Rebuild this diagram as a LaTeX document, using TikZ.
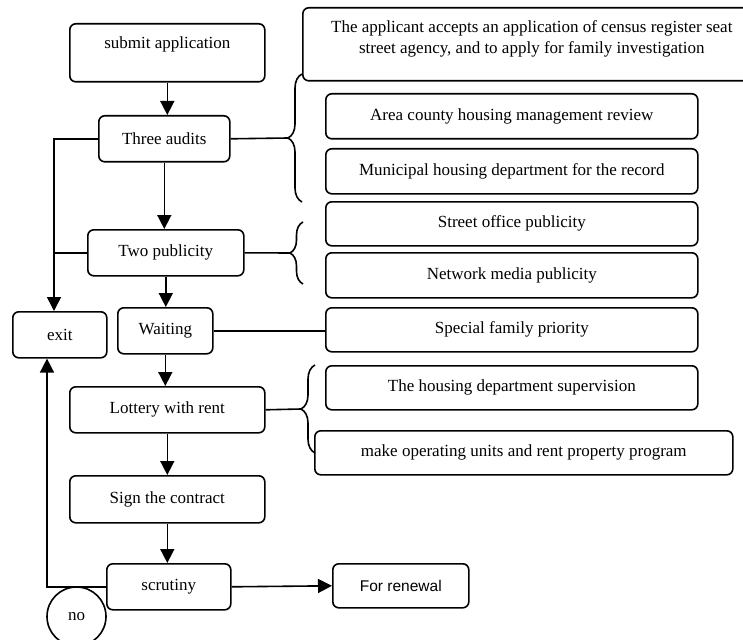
\documentclass[tikz,border=0pt]{standalone}
\usepackage{fontspec}
\setmainfont{Liberation Serif}
\newfontfamily\arialfont{Liberation Sans}
\usetikzlibrary{arrows.meta,decorations.pathreplacing,calc}
\begin{document}
\begin{tikzpicture}[x=1pt,y=-1pt,
  bx/.style={draw, rounded corners=6pt, line width=1.6pt, inner sep=0pt, anchor=north west,
    font=\fontsize{17}{21}\selectfont, align=center},
  ln/.style={line width=1.6pt},
  arr/.style={ln, -{Triangle[length=14pt,width=14pt]}},
  brc/.style={ln, decorate, decoration={brace, amplitude=#1}},
]
\useasboundingbox (0,0) rectangle (743,639);
\clip (0,0) rectangle (743,639);
% main column
\node[bx, minimum width=195pt, minimum height=58pt, text depth=20pt] (sub) at (69,23) {submit application};
\node[bx, minimum width=131pt, minimum height=46pt] (three) at (98,115) {Three audits};
\node[bx, minimum width=156pt, minimum height=46pt] (two) at (87,229) {Two publicity};
\node[bx, minimum width=94pt, minimum height=46pt] (exit) at (12,311) {exit};
\node[bx, minimum width=95pt, minimum height=46pt] (wait) at (117,307) {Waiting};
\node[bx, minimum width=195pt, minimum height=46pt] (lot) at (69,386) {Lottery with rent};
\node[bx, minimum width=195pt, minimum height=47pt] (sign) at (69,475) {Sign the contract};
\node[bx, minimum width=124pt, minimum height=46pt] (scr) at (106,563) {scrutiny};
\node[bx, minimum width=136pt, minimum height=44pt, font=\arialfont\fontsize{15.5}{18}\selectfont] (ren) at (332,563) {For renewal};
\node[draw, circle, line width=1.6pt, minimum size=59pt, inner sep=0pt, font=\fontsize{17}{20}\selectfont] (no) at (76.5,616.5) {no};
% right column
\node[bx, minimum width=458pt, minimum height=73pt, text depth=14pt] (top) at (302,7)
  {The applicant accepts an application of census register seat\\street agency, and to apply for family investigation};
\node[bx, minimum width=372pt, minimum height=45pt] (area) at (325,93) {Area county housing management review};
\node[bx, minimum width=372pt, minimum height=45pt] (muni) at (325,148) {Municipal housing department for the record};
\node[bx, minimum width=372pt, minimum height=44pt] (street) at (325,201) {Street office publicity};
\node[bx, minimum width=372pt, minimum height=45pt] (net) at (325,252) {Network media publicity};
\node[bx, minimum width=372pt, minimum height=44pt] (spec) at (325,307) {Special family priority};
\node[bx, minimum width=372pt, minimum height=44pt] (sup) at (325,365) {The housing department supervision};
\node[bx, minimum width=418pt, minimum height=44pt] (make) at (314,430) {make operating units and rent property program};
% braces
\draw[brc=14pt] (302,202) -- (302,74);
\draw[brc=13pt] (303,284) -- (303,222);
\draw[brc=14pt] (315,453) -- (315,365);
\coordinate (t1) at (288,138);
\coordinate (t2) at (290,253);
\coordinate (t3) at (301,409);
\coordinate (jl) at (54,138);
\coordinate (jr) at (47,586);
% connectors
\draw[arr] (sub.south) -- (sub.south |- three.north);
\draw[arr] (three.south) -- (three.south |- two.north);
\draw[arr] (two.south) -- (two.south |- wait.north);
\draw[arr] (wait.south) -- (wait.south |- lot.north);
\draw[arr] (lot.south) -- (lot.south |- sign.north);
\draw[arr] (sign.south) -- (sign.south |- scr.north);
\draw[arr] (three.west) -| (jl |- exit.north);
\draw[ln] (two.west) -- (two.west -| jl);
\draw[arr] (scr.west) -| (jr |- exit.south);
\draw[arr] (scr.east) -- (ren.west);
\draw[ln] (three.east) -- (t1);
\draw[ln] (two.east) -- (t2);
\draw[ln] (lot.east) -- (t3);
\draw[ln] (wait.east) -- (wait.east -| spec.west);
\end{tikzpicture}
\end{document}
